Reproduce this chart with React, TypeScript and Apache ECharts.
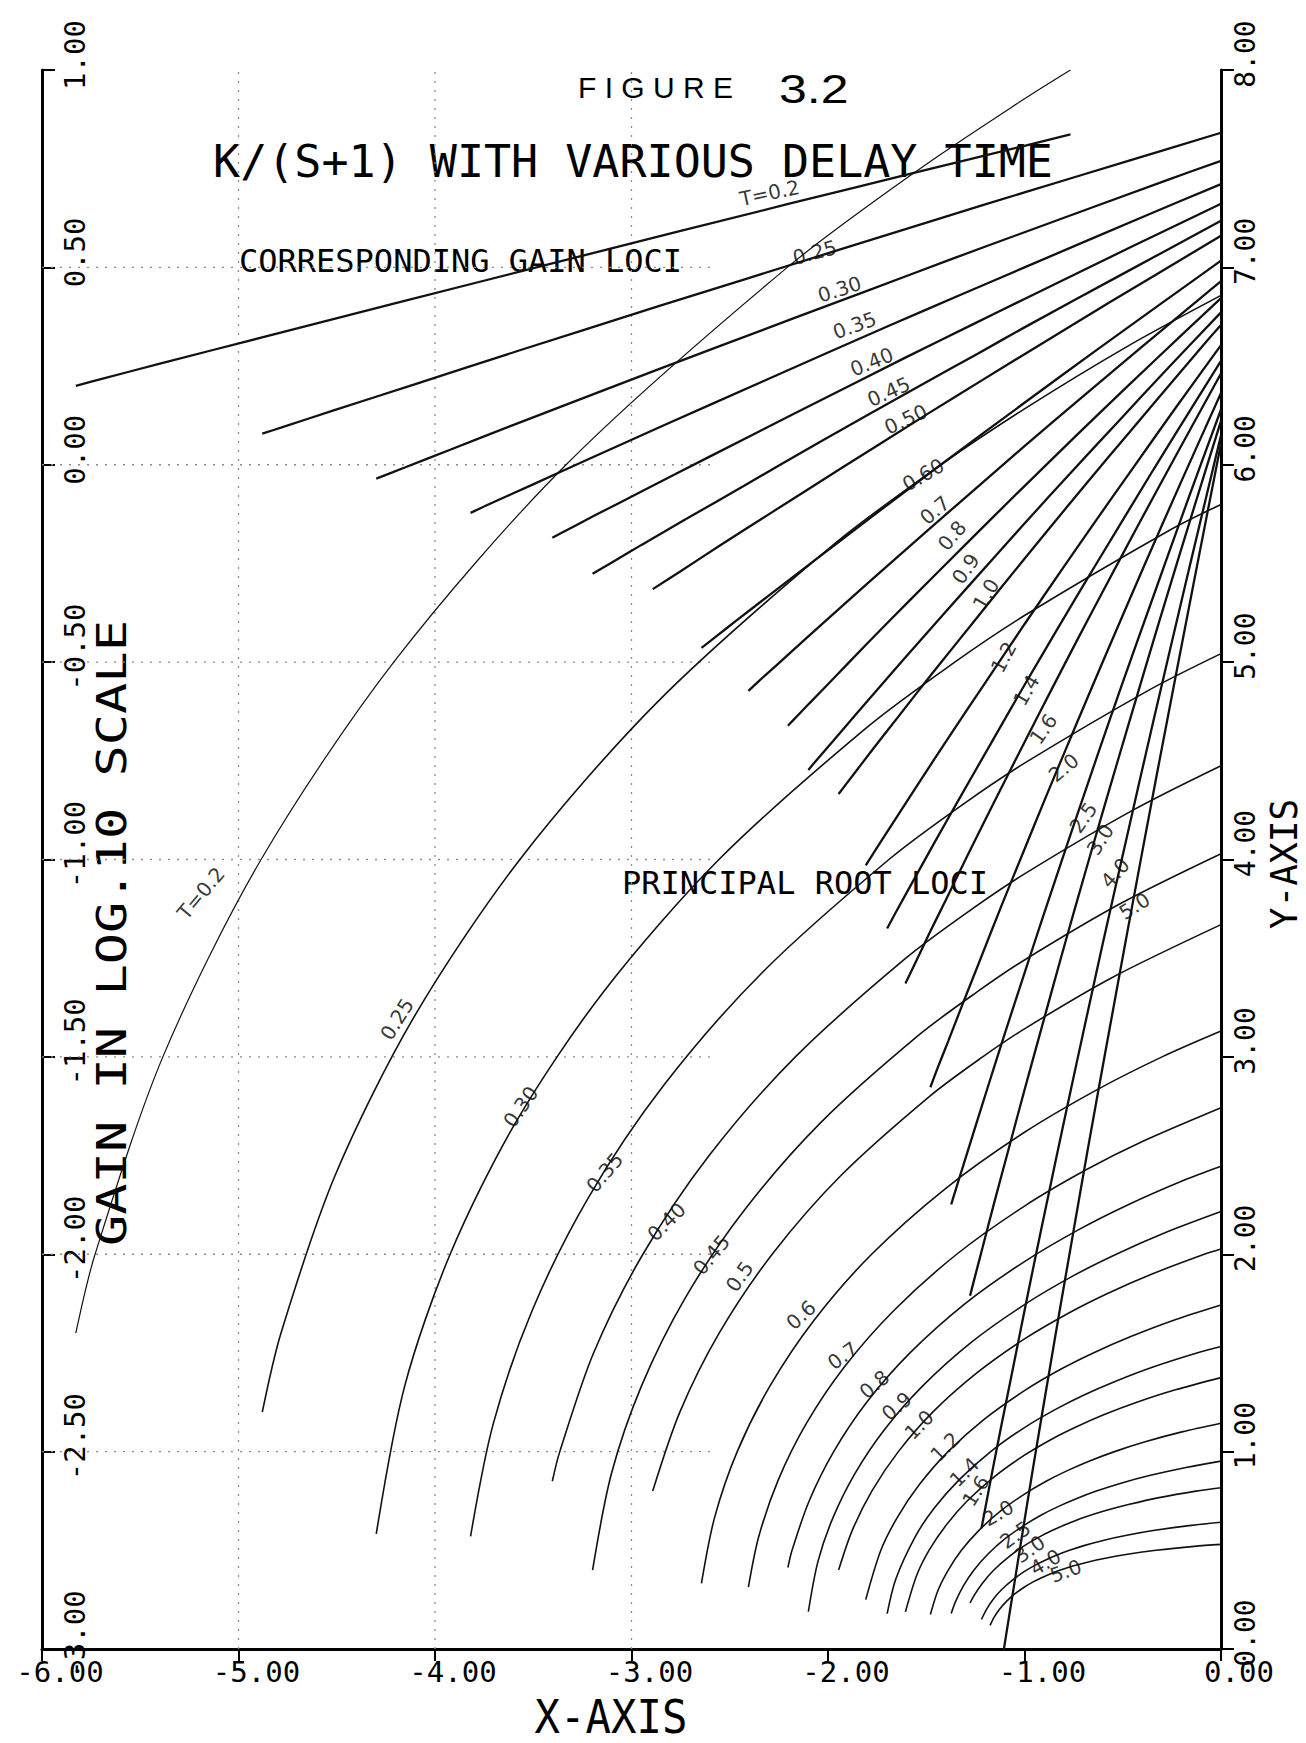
import React, { useEffect, useRef } from "react";
import * as echarts from "echarts";

// ---- axis ticks ----
const X_TICKS = [-6, -5, -4, -3, -2, -1, 0];
const GAIN_TICKS = [-3, -2.5, -2, -1.5, -1, -0.5, 0, 0.5, 1];
const Y_TICKS = [0, 1, 2, 3, 4, 5, 6, 7, 8];

// ---- dotted reference lines (partial grid of the plotter) ----
const GRID_X = [-5, -4, -3];
const GRID_Y = [1, 2, 3, 4, 5, 6, 7];
const GRID_Y_FROM = -6;
const GRID_Y_TO = -2.6;

// ---- delay times ----
const T_NAMES = ["0.2", "0.25", "0.30", "0.35", "0.40", "0.45", "0.5", "0.6", "0.7", "0.8", "0.9", "1.0", "1.2", "1.4", "1.6", "2.0", "2.5", "3.0", "4.0", "5.0"];

// ---- principal root loci  [x, y] (right axis) ----
const locus_020 = [[-5.828, 1.6], [-5.73, 2.0], [-5.385, 3.0], [-4.885, 4.0], [-4.21, 5.0], [-3.333, 6.0], [-2.207, 7.0], [-1.532, 7.5], [-1.0, 7.854], [-0.766, 8.0]];
const locus_025 = [[-4.879, 1.2], [-4.784, 1.6], [-4.508, 2.4], [-4.108, 3.2], [-3.568, 4.0], [-2.866, 4.8], [-1.966, 5.6], [-1.425, 6.0], [-1.0, 6.283], [-0.476, 6.6], [0, 6.858]];
const locus_030 = [[-4.299, 0.583], [-4.154, 1.333], [-3.923, 2.0], [-3.59, 2.667], [-3.14, 3.333], [-2.555, 4.0], [-1.805, 4.667], [-1.355, 5.0], [-1.0, 5.236], [-0.264, 5.667], [0, 5.799]];
const locus_035 = [[-3.819, 0.571], [-3.703, 1.143], [-3.506, 1.714], [-3.22, 2.286], [-2.835, 2.857], [-2.333, 3.429], [-1.69, 4.0], [-1.304, 4.286], [-1.0, 4.488], [-0.369, 4.857], [0, 5.043]];
const locus_040 = [[-3.403, 0.85], [-3.365, 1.0], [-3.193, 1.5], [-2.942, 2.0], [-2.605, 2.5], [-2.166, 3.0], [-1.604, 3.5], [-1.266, 3.75], [-1.0, 3.927], [-0.448, 4.25], [0, 4.475]];
const locus_045 = [[-3.198, 0.4], [-3.102, 0.889], [-2.949, 1.333], [-2.727, 1.778], [-2.427, 2.222], [-2.037, 2.667], [-1.537, 3.111], [-1.236, 3.333], [-1.0, 3.491], [-0.509, 3.778], [0, 4.029]];
const locus_050 = [[-2.892, 0.8], [-2.754, 1.2], [-2.554, 1.6], [-2.284, 2.0], [-1.933, 2.4], [-1.483, 2.8], [-1.213, 3.0], [-1.0, 3.142], [-0.558, 3.4], [0, 3.67]];
const locus_060 = [[-2.644, 0.333], [-2.577, 0.667], [-2.462, 1.0], [-2.295, 1.333], [-2.07, 1.667], [-1.778, 2.0], [-1.402, 2.333], [-1.0, 2.618], [-0.632, 2.833], [-0.3, 3.0], [0, 3.131]];
const locus_070 = [[-2.405, 0.314], [-2.352, 0.571], [-2.253, 0.857], [-2.11, 1.143], [-1.917, 1.429], [-1.666, 1.714], [-1.345, 2.0], [-1.0, 2.244], [-0.684, 2.429], [-0.4, 2.571], [0, 2.742]];
const locus_080 = [[-2.204, 0.413], [-2.183, 0.5], [-2.096, 0.75], [-1.971, 1.0], [-1.803, 1.25], [-1.583, 1.5], [-1.302, 1.75], [-1.0, 1.963], [-0.724, 2.125], [-0.475, 2.25], [-0.189, 2.375], [0, 2.446]];
const locus_090 = [[-2.1, 0.189], [-2.051, 0.444], [-1.974, 0.667], [-1.863, 0.889], [-1.713, 1.111], [-1.518, 1.333], [-1.268, 1.556], [-1.0, 1.745], [-0.755, 1.889], [-0.533, 2.0], [-0.279, 2.111], [0, 2.216]];
const locus_100 = [[-1.946, 0.4], [-1.877, 0.6], [-1.777, 0.8], [-1.642, 1.0], [-1.467, 1.2], [-1.241, 1.4], [-1.0, 1.571], [-0.779, 1.7], [-0.58, 1.8], [-0.351, 1.9], [-0.085, 2.0], [0, 2.027]];
const locus_120 = [[-1.808, 0.25], [-1.731, 0.5], [-1.647, 0.667], [-1.535, 0.833], [-1.389, 1.0], [-1.201, 1.167], [-1.0, 1.309], [-0.816, 1.417], [-0.65, 1.5], [-0.459, 1.583], [-0.237, 1.667], [0, 1.743]];
const locus_140 = [[-1.699, 0.179], [-1.654, 0.357], [-1.555, 0.571], [-1.459, 0.714], [-1.333, 0.857], [-1.172, 1.0], [-1.0, 1.122], [-0.842, 1.214], [-0.7, 1.286], [-0.536, 1.357], [-0.346, 1.429], [-0.123, 1.5], [0, 1.533]];
const locus_160 = [[-1.606, 0.188], [-1.548, 0.375], [-1.486, 0.5], [-1.401, 0.625], [-1.292, 0.75], [-1.151, 0.875], [-1.0, 0.982], [-0.862, 1.063], [-0.738, 1.125], [-0.594, 1.188], [-0.428, 1.25], [-0.232, 1.313], [0, 1.375]];
const locus_200 = [[-1.479, 0.175], [-1.439, 0.3], [-1.388, 0.4], [-1.321, 0.5], [-1.233, 0.6], [-1.121, 0.7], [-1.0, 0.785], [-0.89, 0.85], [-0.79, 0.9], [-0.675, 0.95], [-0.542, 1.0], [-0.386, 1.05], [-0.199, 1.1], [0, 1.144]];
const locus_250 = [[-1.373, 0.18], [-1.351, 0.24], [-1.311, 0.32], [-1.257, 0.4], [-1.187, 0.48], [-1.097, 0.56], [-1.0, 0.628], [-0.912, 0.68], [-0.832, 0.72], [-0.74, 0.76], [-0.634, 0.8], [-0.509, 0.84], [-0.359, 0.88], [-0.178, 0.92], [0, 0.952]];
const locus_300 = [[-1.277, 0.233], [-1.259, 0.267], [-1.214, 0.333], [-1.156, 0.4], [-1.08, 0.467], [-1.0, 0.524], [-0.926, 0.567], [-0.86, 0.6], [-0.784, 0.633], [-0.695, 0.667], [-0.591, 0.7], [-0.466, 0.733], [-0.315, 0.767], [-0.127, 0.8], [0, 0.817]];
const locus_400 = [[-1.219, 0.15], [-1.194, 0.2], [-1.161, 0.25], [-1.117, 0.3], [-1.06, 0.35], [-1.0, 0.393], [-0.945, 0.425], [-0.895, 0.45], [-0.838, 0.475], [-0.771, 0.5], [-0.693, 0.525], [-0.6, 0.55], [-0.486, 0.575], [-0.345, 0.6], [-0.163, 0.625], [0, 0.642]];
const locus_500 = [[-1.175, 0.12], [-1.155, 0.16], [-1.128, 0.2], [-1.093, 0.24], [-1.048, 0.28], [-1.0, 0.314], [-0.956, 0.34], [-0.916, 0.36], [-0.87, 0.38], [-0.817, 0.4], [-0.754, 0.42], [-0.68, 0.44], [-0.589, 0.46], [-0.476, 0.48], [-0.331, 0.5], [-0.136, 0.52], [0, 0.53]];

// ---- corresponding gain loci  [x, log10 K] (left axis) ----
const gain_020 = [[-5.828, 0.2], [-5.73, 0.213], [-5.385, 0.258], [-4.885, 0.322], [-4.21, 0.408], [-3.333, 0.519], [-2.207, 0.66], [-1.532, 0.743], [-1.0, 0.808], [-0.766, 0.837]];
const gain_025 = [[-4.879, 0.079], [-4.784, 0.094], [-4.508, 0.139], [-4.108, 0.203], [-3.568, 0.29], [-2.866, 0.401], [-1.966, 0.541], [-1.425, 0.625], [-1.0, 0.69], [-0.476, 0.769], [0, 0.841]];
const gain_030 = [[-4.299, -0.035], [-4.154, -0.007], [-3.923, 0.038], [-3.59, 0.103], [-3.14, 0.189], [-2.555, 0.3], [-1.805, 0.44], [-1.355, 0.524], [-1.0, 0.589], [-0.264, 0.723], [0, 0.77]];
const gain_035 = [[-3.819, -0.122], [-3.703, -0.095], [-3.506, -0.051], [-3.22, 0.014], [-2.835, 0.1], [-2.333, 0.211], [-1.69, 0.352], [-1.304, 0.435], [-1.0, 0.5], [-0.369, 0.634], [0, 0.711]];
const gain_040 = [[-3.403, -0.185], [-3.365, -0.175], [-3.193, -0.13], [-2.942, -0.066], [-2.605, 0.02], [-2.166, 0.131], [-1.604, 0.272], [-1.266, 0.355], [-1.0, 0.42], [-0.448, 0.554], [0, 0.661]];
const gain_045 = [[-3.198, -0.276], [-3.102, -0.248], [-2.949, -0.203], [-2.727, -0.139], [-2.427, -0.053], [-2.037, 0.059], [-1.537, 0.199], [-1.236, 0.282], [-1.0, 0.348], [-0.509, 0.481], [0, 0.618]];
const gain_050 = [[-2.892, -0.315], [-2.754, -0.271], [-2.554, -0.206], [-2.284, -0.12], [-1.933, -0.009], [-1.483, 0.132], [-1.213, 0.215], [-1.0, 0.28], [-0.558, 0.414], [0, 0.58]];
const gain_060 = [[-2.644, -0.464], [-2.577, -0.438], [-2.462, -0.393], [-2.295, -0.329], [-2.07, -0.243], [-1.778, -0.132], [-1.402, 0.009], [-1.0, 0.157], [-0.632, 0.291], [-0.3, 0.41], [0, 0.517]];
const gain_070 = [[-2.405, -0.573], [-2.352, -0.548], [-2.253, -0.504], [-2.11, -0.439], [-1.917, -0.353], [-1.666, -0.242], [-1.345, -0.102], [-1.0, 0.047], [-0.684, 0.181], [-0.4, 0.3], [0, 0.465]];
const gain_080 = [[-2.204, -0.661], [-2.183, -0.65], [-2.096, -0.605], [-1.971, -0.541], [-1.803, -0.454], [-1.583, -0.343], [-1.302, -0.203], [-1.0, -0.054], [-0.724, 0.08], [-0.475, 0.199], [-0.189, 0.334], [0, 0.422]];
const gain_090 = [[-2.1, -0.773], [-2.051, -0.744], [-1.974, -0.7], [-1.863, -0.635], [-1.713, -0.549], [-1.518, -0.438], [-1.268, -0.298], [-1.0, -0.149], [-0.755, -0.015], [-0.533, 0.104], [-0.279, 0.24], [0, 0.386]];
const gain_100 = [[-1.946, -0.834], [-1.877, -0.789], [-1.777, -0.724], [-1.642, -0.638], [-1.467, -0.527], [-1.241, -0.387], [-1.0, -0.238], [-0.779, -0.104], [-0.58, 0.015], [-0.351, 0.15], [-0.085, 0.306], [0, 0.354]];
const gain_120 = [[-1.808, -1.015], [-1.731, -0.955], [-1.647, -0.89], [-1.535, -0.804], [-1.389, -0.693], [-1.201, -0.553], [-1.0, -0.404], [-0.816, -0.27], [-0.65, -0.151], [-0.459, -0.016], [-0.237, 0.14], [0, 0.303]];
const gain_140 = [[-1.699, -1.175], [-1.654, -1.133], [-1.555, -1.044], [-1.459, -0.958], [-1.333, -0.847], [-1.172, -0.707], [-1.0, -0.558], [-0.842, -0.424], [-0.7, -0.305], [-0.536, -0.17], [-0.346, -0.014], [-0.123, 0.165], [0, 0.263]];
const gain_160 = [[-1.606, -1.314], [-1.548, -1.254], [-1.486, -1.189], [-1.401, -1.103], [-1.292, -0.992], [-1.151, -0.851], [-1.0, -0.703], [-0.862, -0.569], [-0.738, -0.45], [-0.594, -0.314], [-0.428, -0.159], [-0.232, 0.021], [0, 0.231]];
const gain_200 = [[-1.479, -1.577], [-1.439, -1.524], [-1.388, -1.46], [-1.321, -1.374], [-1.233, -1.263], [-1.121, -1.122], [-1.0, -0.974], [-0.89, -0.84], [-0.79, -0.721], [-0.675, -0.585], [-0.542, -0.43], [-0.386, -0.25], [-0.199, -0.039], [0, 0.182]];
const gain_250 = [[-1.373, -1.874], [-1.351, -1.838], [-1.311, -1.774], [-1.257, -1.688], [-1.187, -1.577], [-1.097, -1.436], [-1.0, -1.288], [-0.912, -1.154], [-0.832, -1.035], [-0.74, -0.899], [-0.634, -0.744], [-0.509, -0.564], [-0.359, -0.354], [-0.178, -0.102], [0, 0.14]];
const gain_300 = [[-1.277, -2.105], [-1.259, -2.07], [-1.214, -1.984], [-1.156, -1.873], [-1.08, -1.732], [-1.0, -1.584], [-0.926, -1.45], [-0.86, -1.331], [-0.784, -1.195], [-0.695, -1.04], [-0.591, -0.861], [-0.466, -0.65], [-0.315, -0.398], [-0.127, -0.092], [0, 0.111]];
const gain_400 = [[-1.219, -2.694], [-1.194, -2.629], [-1.161, -2.543], [-1.117, -2.432], [-1.06, -2.292], [-1.0, -2.143], [-0.945, -2.009], [-0.895, -1.89], [-0.838, -1.755], [-0.771, -1.599], [-0.693, -1.42], [-0.6, -1.209], [-0.486, -0.958], [-0.345, -0.651], [-0.163, -0.265], [0, 0.075]];
const gain_500 = [[-1.175, -3.225], [-1.155, -3.16], [-1.128, -3.074], [-1.093, -2.963], [-1.048, -2.823], [-1.0, -2.674], [-0.956, -2.54], [-0.916, -2.421], [-0.87, -2.286], [-0.817, -2.131], [-0.754, -1.951], [-0.68, -1.74], [-0.589, -1.489], [-0.476, -1.182], [-0.331, -0.796], [-0.136, -0.292], [0, 0.054]];

const ROOT_LOCI = [locus_020, locus_025, locus_030, locus_035, locus_040, locus_045, locus_050, locus_060, locus_070, locus_080, locus_090, locus_100, locus_120, locus_140, locus_160, locus_200, locus_250, locus_300, locus_400, locus_500];
const GAIN_LOCI = [gain_020, gain_025, gain_030, gain_035, gain_040, gain_045, gain_050, gain_060, gain_070, gain_080, gain_090, gain_100, gain_120, gain_140, gain_160, gain_200, gain_250, gain_300, gain_400, gain_500];

// ---- curve annotations (x, right-axis y) ----
const GAIN_LABEL_TEXT = ["T=0.2", "0.25", "0.30", "0.35", "0.40", "0.45", "0.50", "0.60", "0.7", "0.8", "0.9", "1.0", "1.2", "1.4", "1.6", "2.0", "2.5", "3.0", "4.0", "5.0"];
const GAIN_LABEL_X = [-2.297, -2.068, -1.941, -1.865, -1.777, -1.691, -1.604, -1.515, -1.456, -1.369, -1.299, -1.196, -1.106, -0.991, -0.904, -0.8, -0.7, -0.614, -0.538, -0.44];
const GAIN_LABEL_Y = [7.377, 7.076, 6.889, 6.706, 6.521, 6.37, 6.23, 5.949, 5.77, 5.641, 5.473, 5.344, 5.025, 4.857, 4.661, 4.465, 4.212, 4.101, 3.932, 3.764];
const GAIN_LABEL_ANGLE = [12, 15, 18, 20, 22, 24, 25, 30, 40, 50, 55, 60, 62, 60, 55, 40, 55, 58, 48, 32];

const LOCUS_LABEL_TEXT = ["T=0.2", "0.25", "0.30", "0.35", "0.40", "0.45", "0.5", "0.6", "0.7", "0.8", "0.9", "1.0", "1.2", "1.4", "1.6", "2.0", "2.5", "3.0", "4.0", "5.0"];
const LOCUS_LABEL_X = [-5.191, -4.193, -3.564, -3.136, -2.822, -2.593, -2.45, -2.137, -1.925, -1.764, -1.65, -1.536, -1.404, -1.306, -1.248, -1.134, -1.047, -0.973, -0.893, -0.79];
const LOCUS_LABEL_Y = [3.829, 3.191, 2.747, 2.414, 2.164, 1.997, 1.887, 1.692, 1.486, 1.341, 1.23, 1.136, 1.024, 0.896, 0.801, 0.689, 0.578, 0.506, 0.439, 0.395];
const LOCUS_LABEL_ANGLE = [50, 58, 55, 50, 45, 50, 55, 42, 36, 40, 40, 45, 45, 45, 58, 30, 35, 35, 30, 20];

const MONO = "DejaVu Sans Mono";

export default function App() {
  const ref = useRef<HTMLDivElement>(null);

  useEffect(() => {
    if (!ref.current) return;
    const chart = echarts.init(ref.current, undefined, { renderer: "svg" });

    const series: any[] = [];
    const gridStyle = { color: "#8c8c8c", width: 1.3, type: [2, 7] };
    GRID_X.forEach((gx) => {
      series.push({
        type: "line", xAxisIndex: 0, yAxisIndex: 1, silent: true, symbol: "none",
        data: [[gx, Y_TICKS[0]], [gx, Y_TICKS[Y_TICKS.length - 1]]],
        lineStyle: gridStyle,
      });
    });
    GRID_Y.forEach((gy) => {
      series.push({
        type: "line", xAxisIndex: 0, yAxisIndex: 1, silent: true, symbol: "none",
        data: [[GRID_Y_FROM, gy], [GRID_Y_TO, gy]],
        lineStyle: gridStyle,
      });
    });

    GAIN_LOCI.forEach((d, i) => {
      series.push({
        name: "gain T=" + T_NAMES[i],
        type: "line",
        xAxisIndex: 0,
        yAxisIndex: 0,
        data: d,
        symbol: "none",
        smooth: 0.3,
        clip: true,
        lineStyle: { color: "#111", width: 2.3 },
        silent: true,
      });
    });
    ROOT_LOCI.forEach((d, i) => {
      series.push({
        name: "locus T=" + T_NAMES[i],
        type: "line",
        xAxisIndex: 0,
        yAxisIndex: 1,
        data: d,
        symbol: "none",
        smooth: 0.3,
        clip: true,
        lineStyle: { color: "#111", width: i === 0 ? 1.2 : 1.6 },
        silent: true,
      });
    });
    const labelSeries = (texts: string[], xs: number[], ys: number[], angles: number[]) => ({
      type: "scatter",
      xAxisIndex: 0,
      yAxisIndex: 1,
      symbolSize: 1,
      itemStyle: { color: "rgba(0,0,0,0)" },
      silent: true,
      data: texts.map((t, i) => ({ name: t, value: [xs[i], ys[i]], label: { rotate: angles[i] } })),
      label: {
        show: true,
        position: "inside",
        formatter: "{b}",
        fontFamily: "DejaVu Sans",
        fontSize: 20,
        color: "#000",
        align: "center",
        verticalAlign: "middle",
      },
    });
    series.push(labelSeries(GAIN_LABEL_TEXT, GAIN_LABEL_X, GAIN_LABEL_Y, GAIN_LABEL_ANGLE));
    series.push(labelSeries(LOCUS_LABEL_TEXT, LOCUS_LABEL_X, LOCUS_LABEL_Y, LOCUS_LABEL_ANGLE));

    chart.setOption({
      animation: false,
      backgroundColor: "#fff",
      grid: { left: 42, top: 70, width: 1179, height: 1579, containLabel: false },
      xAxis: {
        type: "value",
        min: X_TICKS[0],
        max: X_TICKS[X_TICKS.length - 1],
        interval: 1,
        axisLine: { show: true, onZero: false, lineStyle: { color: "#000", width: 3 } },
        axisTick: { show: true, inside: false, length: 12, lineStyle: { color: "#000", width: 2 } },
        axisLabel: {
          formatter: (v: number) => v.toFixed(2),
          fontFamily: MONO,
          fontSize: 29,
          color: "#000",
          margin: 8,
          align: "center",
          padding: [0, 0, 0, 36],
          showMinLabel: true,
          showMaxLabel: true,
        },
        splitLine: { show: false },
      },
      yAxis: [
        {
          type: "value",
          position: "left",
          min: GAIN_TICKS[0],
          max: GAIN_TICKS[GAIN_TICKS.length - 1],
          interval: 0.5,
          axisLine: { show: true, onZero: false, lineStyle: { color: "#000", width: 3 } },
          axisTick: { show: true, inside: true, length: 13, lineStyle: { color: "#000", width: 2 } },
          axisLabel: {
            inside: true,
            rotate: 90,
            align: "center",
            padding: [0, 0, 0, 30],
            formatter: (v: number) => v.toFixed(2),
            fontFamily: MONO,
            fontSize: 29,
            color: "#000",
            margin: 18,
            showMinLabel: true,
            showMaxLabel: true,
          },
          splitLine: { show: false },
        },
        {
          type: "value",
          position: "right",
          min: Y_TICKS[0],
          max: Y_TICKS[Y_TICKS.length - 1],
          interval: 1,
          axisLine: { show: true, onZero: false, lineStyle: { color: "#000", width: 3 } },
          axisTick: { show: true, inside: false, length: 13, lineStyle: { color: "#000", width: 2 } },
          axisLabel: {
            rotate: 90,
            align: "center",
            padding: [0, 0, 0, 32],
            formatter: (v: number) => v.toFixed(2),
            fontFamily: MONO,
            fontSize: 28,
            color: "#000",
            margin: 10,
            showMinLabel: true,
            showMaxLabel: true,
          },
          splitLine: { show: false },
        },
      ],
      graphic: [
        { type: "text", x: 578, y: 87, style: { text: "F I G U R E", font: "30px 'Liberation Sans'", fill: "#000", align: "left", verticalAlign: "middle" } },
        { type: "text", x: 779, y: 89, scaleX: 1.25, style: { text: "3.2", font: "40px 'Liberation Sans'", fill: "#000", align: "left", verticalAlign: "middle" } },
        { type: "text", x: 633, y: 161, style: { text: "K/(S+1) WITH VARIOUS DELAY TIME", font: "45px 'DejaVu Sans Mono'", fill: "#000", align: "center", verticalAlign: "middle" } },
        { type: "text", x: 239, y: 261, style: { text: "CORRESPONDING GAIN LOCI", font: "32px 'DejaVu Sans Mono'", fill: "#000", align: "left", verticalAlign: "middle" } },
        { type: "text", x: 622, y: 883, style: { text: "PRINCIPAL ROOT LOCI", font: "32px 'DejaVu Sans Mono'", fill: "#000", align: "left", verticalAlign: "middle" } },
        { type: "text", x: 112, y: 933, rotation: Math.PI / 2, scaleX: 1.3, style: { text: "GAIN IN LOG.10 SCALE", font: "40px 'DejaVu Sans Mono'", fill: "#000", align: "center", verticalAlign: "middle" } },
        { type: "text", x: 1284, y: 864, rotation: Math.PI / 2, scaleX: 0.95, style: { text: "Y-AXIS", font: "38px 'DejaVu Sans Mono'", fill: "#000", align: "center", verticalAlign: "middle" } },
        { type: "text", x: 611, y: 1717, scaleX: 0.92, style: { text: "X-AXIS", font: "46px 'DejaVu Sans Mono'", fill: "#000", align: "center", verticalAlign: "middle" } },
      ],
      series,
    });

    return () => chart.dispose();
  }, []);

  return (
    <div
      ref={ref}
      style={{ position: "absolute", left: 0, top: 0, width: 1306, height: 1743, background: "#fff" }}
    />
  );
}
